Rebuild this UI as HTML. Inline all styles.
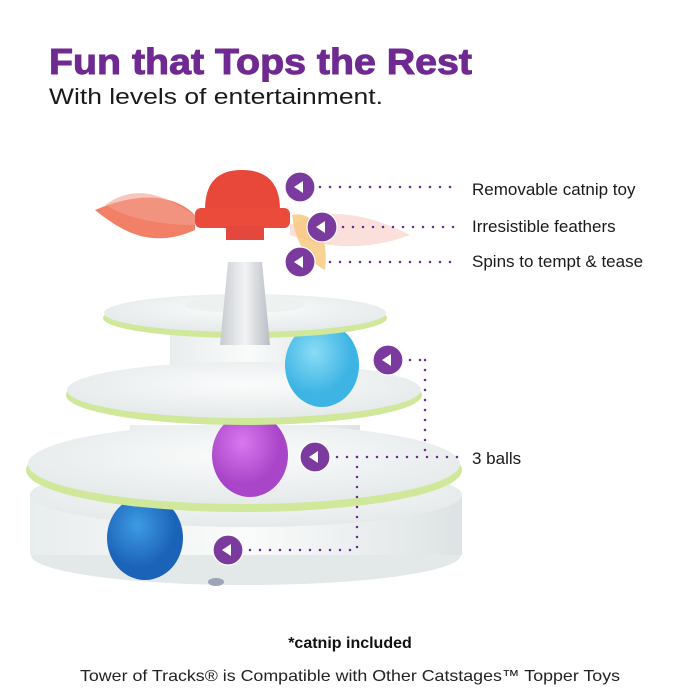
<!DOCTYPE html>
<html><head><meta charset="utf-8"><style>
html,body{margin:0;padding:0;background:#fff}
svg{display:block}
text{font-family:"Liberation Sans",sans-serif}
</style></head><body>
<svg width="700" height="700" viewBox="0 0 700 700" xmlns="http://www.w3.org/2000/svg">
<defs>
<radialGradient id="disc" cx="50%" cy="40%" r="60%"><stop offset="0" stop-color="#fbfcfc"/><stop offset="1" stop-color="#e4e9ea"/></radialGradient>
<linearGradient id="col" x1="0" x2="1"><stop offset="0" stop-color="#e8eded"/><stop offset=".5" stop-color="#fafbfb"/><stop offset="1" stop-color="#dde3e4"/></linearGradient>
<linearGradient id="pole" x1="0" x2="1"><stop offset="0" stop-color="#c7cbcf"/><stop offset=".5" stop-color="#f2f3f5"/><stop offset="1" stop-color="#b9bec3"/></linearGradient>
<radialGradient id="cy" cx="40%" cy="35%"><stop offset="0" stop-color="#8adcf5"/><stop offset="1" stop-color="#3db4e4"/></radialGradient>
<radialGradient id="pu" cx="40%" cy="35%"><stop offset="0" stop-color="#d878ef"/><stop offset="1" stop-color="#a945c8"/></radialGradient>
<radialGradient id="bl" cx="40%" cy="35%"><stop offset="0" stop-color="#3e9be3"/><stop offset="1" stop-color="#1b63b8"/></radialGradient>
</defs>
<text x="49" y="74" font-size="36" font-weight="bold" fill="#6e2a91" stroke="#6e2a91" stroke-width="1" textLength="423" lengthAdjust="spacingAndGlyphs">Fun that Tops the Rest</text>
<text x="49" y="104" font-size="22" fill="#1a1a1a" textLength="334" lengthAdjust="spacingAndGlyphs">With levels of entertainment.</text>

<!-- base -->
<ellipse cx="246" cy="555" rx="215" ry="30" fill="#e3e8e9"/>
<rect x="30" y="495" width="432" height="60" fill="url(#col)"/>
<ellipse cx="246" cy="495" rx="216" ry="32" fill="url(#disc)"/>
<ellipse cx="216" cy="582" rx="8" ry="4" fill="#9aa5b5"/>
<ellipse cx="145" cy="538" rx="38" ry="42" fill="url(#bl)"/>
<!-- lower disc -->
<rect x="130" y="425" width="230" height="40" fill="url(#col)"/>
<ellipse cx="244" cy="470" rx="218" ry="42" fill="#cfe89a"/>
<ellipse cx="244" cy="464" rx="216" ry="40" fill="url(#disc)"/>
<ellipse cx="250" cy="455" rx="38" ry="42" fill="url(#pu)"/>
<!-- middle disc -->
<rect x="170" y="335" width="160" height="45" fill="url(#col)"/>
<ellipse cx="244" cy="395" rx="178" ry="30" fill="#cfe89a"/>
<ellipse cx="244" cy="390" rx="177" ry="28" fill="url(#disc)"/>
<ellipse cx="322" cy="365" rx="37" ry="42" fill="url(#cy)"/>
<!-- top disc -->
<ellipse cx="245" cy="318" rx="142" ry="20" fill="#cfe89a"/>
<ellipse cx="245" cy="313" rx="141" ry="19" fill="url(#disc)"/>
<ellipse cx="245" cy="305" rx="60" ry="8" fill="#edf1f0"/>
<!-- pole -->
<path d="M228 262 L262 262 L270 345 L220 345 Z" fill="url(#pole)"/>
<!-- feathers -->
<path d="M195 215 C170 190 130 195 95 210 C120 230 150 250 195 230 Z" fill="#ef6a4c" opacity=".85"/>
<path d="M195 215 C170 200 140 180 105 205 C130 220 165 225 195 225 Z" fill="#f4a090" opacity=".6"/>
<path d="M290 225 C330 205 370 215 410 235 C370 250 330 250 290 235 Z" fill="#f6c0b8" opacity=".5"/>
<path d="M292 215 C310 210 330 230 325 270 C305 260 295 240 292 215 Z" fill="#f6c77a" opacity=".8"/>
<!-- red toy -->
<path d="M205 210 C205 180 220 170 242 170 C264 170 280 180 280 210 Z" fill="#e8483a"/>
<rect x="195" y="208" width="95" height="20" rx="6" fill="#ea4b3a"/>
<rect x="226" y="226" width="38" height="14" fill="#e4483c"/>

<!-- callouts -->
<g stroke="#6e2a91" stroke-width="2.5" stroke-linecap="round" stroke-dasharray="0 10" fill="none">
<line x1="320" y1="187" x2="458" y2="187"/>
<line x1="343" y1="227" x2="458" y2="227"/>
<line x1="330" y1="262" x2="458" y2="262"/>
<line x1="410" y1="360" x2="425" y2="360"/>
<line x1="425" y1="360" x2="425" y2="457"/>
<line x1="337" y1="457" x2="458" y2="457"/>
<line x1="357" y1="457" x2="357" y2="550"/>
<line x1="250" y1="550" x2="357" y2="550"/>
</g>
<g fill="#7a3a9e" stroke="#fff" stroke-width="1.2">
<circle cx="300" cy="187" r="15"/><circle cx="322" cy="227" r="15"/><circle cx="300" cy="262" r="15"/>
<circle cx="388" cy="360" r="15"/><circle cx="315" cy="457" r="15"/><circle cx="228" cy="550" r="15"/>
</g>
<g fill="#fff">
<path d="M294 187 l9 -6 v12z"/><path d="M316 227 l9 -6 v12z"/><path d="M294 262 l9 -6 v12z"/>
<path d="M382 360 l9 -6 v12z"/><path d="M309 457 l9 -6 v12z"/><path d="M222 550 l9 -6 v12z"/>
</g>
<g font-size="17" fill="#1a1a1a">
<text x="472" y="195">Removable catnip toy</text>
<text x="472" y="232">Irresistible feathers</text>
<text x="472" y="267">Spins to tempt &amp; tease</text>
<text x="472" y="464">3 balls</text>
</g>
<text x="350" y="648" font-size="16" font-weight="bold" fill="#111" text-anchor="middle">*catnip included</text>
<text x="350" y="681" font-size="16" fill="#222" text-anchor="middle" textLength="540" lengthAdjust="spacingAndGlyphs">Tower of Tracks® is Compatible with Other Catstages™ Topper Toys</text>
</svg>
</body></html>
